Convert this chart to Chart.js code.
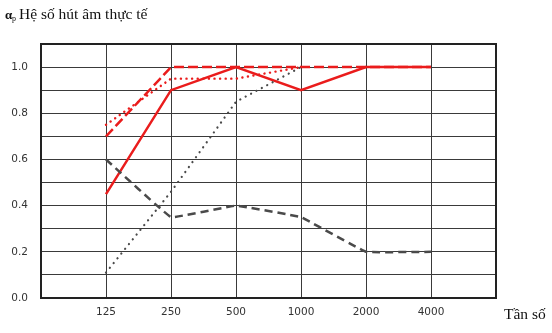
<!DOCTYPE html>
<html>
<head>
<meta charset="utf-8">
<script src="https://cdn.jsdelivr.net/npm/chart.js@4.4.0/dist/chart.umd.min.js"></script>
<style>
  html, body { margin: 0; padding: 0; background: #fff; }
  #wrap { width: 552px; height: 333px; position: relative; }
</style>
</head>
<body>
<div id="wrap"><canvas id="grafico"></canvas></div>
<script>
// tần số (trục x)
const tanSo = ['125', '250', '500', '1000', '2000', '4000'];
const nhanTrucY = ['0.0', '0.2', '0.4', '0.6', '0.8', '1.0'];

// các đường hệ số hút âm
const doLienNet = [0.45, 0.9, 1.0, 0.9, 1.0, 1.0];
const doGachNet = [0.7, 1.0, 1.0, 1.0, 1.0, 1.0];
const doChamNet = [0.75, 0.95, 0.95, 1.0, null, null];
const xamCham = [0.11, 0.46, 0.85, 1.0, null, null];
const xamGach = [0.6, 0.35, 0.4, 0.35, 0.2, 0.2];

function toPoints(arr) {
    let pts = [];
    for (let i = 0; i < arr.length; i++) {
        if (arr[i] !== null) pts.push({ x: i + 1, y: arr[i] });
    }
    return pts;
}

const RED = '#ea1c1c';
const GRAY = '#4a4a4a';

// plugin vẽ chữ tiêu đề + viền khung
const chuVaKhung = {
    id: 'chuVaKhung',
    afterDraw(chart) {
        const ctx = chart.ctx;
        const a = chart.chartArea;
        ctx.save();
        ctx.strokeStyle = '#222';
        ctx.lineWidth = 2;
        ctx.strokeRect(a.left, a.top, a.right - a.left, a.bottom - a.top);

        ctx.fillStyle = '#111';
        ctx.textBaseline = 'alphabetic';
        ctx.font = 'bold 13px "Liberation Serif"';
        ctx.fillText('α', 5, 19);
        ctx.font = '8px "Liberation Serif"';
        ctx.fillText('p', 12, 21);
        ctx.font = '15.5px "Liberation Serif"';
        ctx.fillText('Hệ số hút âm thực tế', 19, 19);
        ctx.fillText('Tần số', 504, 319);
        ctx.restore();
    }
};

const dados = {
    datasets: [
        { data: toPoints(xamCham), borderColor: GRAY, borderWidth: 2.2, borderDash: [0.1, 6], borderCapStyle: 'round' },
        { data: toPoints(xamGach), borderColor: GRAY, borderWidth: 2.5, borderDash: [8, 5], tension: 0.05 },
        { data: toPoints(doChamNet), borderColor: RED, borderWidth: 2.4, borderDash: [0.1, 5.5], borderCapStyle: 'round' },
        { data: toPoints(doGachNet), borderColor: RED, borderWidth: 2.5, borderDash: [10, 4] },
        { data: toPoints(doLienNet), borderColor: RED, borderWidth: 2.5 }
    ]
};

const config = {
    type: 'line',
    data: dados,
    options: {
        responsive: true,
        maintainAspectRatio: false,
        animation: false,
        elements: { point: { radius: 0 } },
        layout: { padding: { top: 44, right: 56, left: 0, bottom: 0 } },
        plugins: { legend: { display: false }, tooltip: { enabled: false } },
        scales: {
            x: {
                type: 'linear', min: 0, max: 7,
                grid: { color: '#3a3a3a', lineWidth: 1, drawTicks: false },
                border: { display: false },
                afterFit(s) { s.height = 35; },
                ticks: {
                    stepSize: 1, padding: 8, color: '#333',
                    font: { family: 'DejaVu Sans', size: 10.5 },
                    callback: v => (v >= 1 && v <= 6) ? tanSo[v - 1] : ''
                }
            },
            y: {
                min: 0, max: 1.1,
                grid: { color: '#3a3a3a', lineWidth: 1, drawTicks: false },
                border: { display: false },
                afterFit(s) { s.width = 41; },
                ticks: {
                    stepSize: 0.1, padding: 13, color: '#333',
                    font: { family: 'DejaVu Sans', size: 10.5 },
                    callback: function (v) {
                        let k = Math.round(v * 10);
                        if (k % 2 === 0 && k / 2 < nhanTrucY.length) return nhanTrucY[k / 2];
                        return '';
                    }
                }
            }
        }
    },
    plugins: [chuVaKhung]
};

new Chart(document.getElementById('grafico'), config);
</script>
</body>
</html>
